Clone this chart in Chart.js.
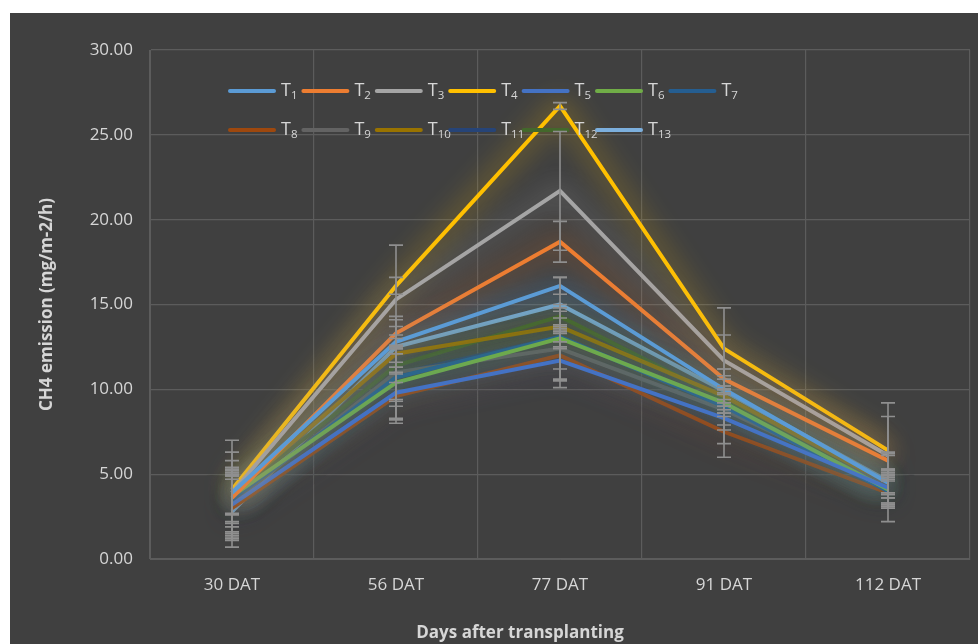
<!DOCTYPE html>
<html>
<head>
<meta charset="utf-8">
<script src="https://cdn.jsdelivr.net/npm/chart.js@4"></script>
<style>
  body { margin: 0; background: #fff; }
  #wrap { position: absolute; left: 10px; top: 13px; width: 968px; height: 631px; background: #404040; }
  canvas { display: block; }
</style>
</head>
<body>
<div id="wrap"><canvas id="c" width="968" height="631"></canvas></div>
<script>
// Data
const days = ['30 DAT', '56 DAT', '77 DAT', '91 DAT', '112 DAT'];
const yTicks = [0, 5, 10, 15, 20, 25, 30];

const labels = ['T1', 'T2', 'T3', 'T4', 'T5', 'T6', 'T7', 'T8', 'T9', 'T10', 'T11', 'T12', 'T13'];
const colors = ['#5B9BD5', '#ED7D31', '#A5A5A5', '#FFC000', '#4472C4', '#70AD47', '#255E91',
                '#9E480E', '#636363', '#997300', '#264478', '#43682B', '#7CAFDD'];

const t1  = [3.9, 12.8, 16.1, 10.0, 4.5];
const t2  = [3.6, 13.3, 18.7, 10.6, 5.8];
const t3  = [3.9, 15.3, 21.7, 11.7, 6.1];
const t4  = [4.1, 16.1, 26.7, 12.4, 6.4];
const t5  = [3.2, 9.8, 11.7, 8.3, 4.2];
const t6  = [3.7, 10.4, 13.0, 9.2, 4.1];
const t7  = [3.5, 10.7, 13.1, 9.0, 4.0];
const t8  = [3.0, 9.6, 12.0, 7.5, 3.9];
const t9  = [3.3, 11.0, 12.4, 8.8, 4.3];
const t10 = [3.8, 12.1, 13.7, 9.6, 4.4];
const t11 = [3.4, 10.9, 13.1, 9.1, 4.0];
const t12 = [3.7, 11.4, 14.3, 9.4, 4.2];
const t13 = [2.8, 12.5, 15.0, 9.9, 4.6];
const series = [t1, t2, t3, t4, t5, t6, t7, t8, t9, t10, t11, t12, t13];

// error bar half-lengths (same order as series)
const e1  = [2.4, 1.5, 0.5, 0.8, 0.6];
const e2  = [1.5, 0.8, 1.2, 0.6, 0.5];
const e3  = [1.3, 3.2, 3.5, 1.5, 2.3];
const e4  = [2.9, 0.5, 0.2, 2.4, 2.8];
const e5  = [1.8, 1.8, 1.6, 1.5, 2.0];
const e6  = [2.1, 2.2, 0.6, 0.8, 0.9];
const e7  = [1.6, 1.4, 1.9, 0.4, 0.7];
const e8  = [1.9, 1.3, 1.5, 1.5, 0.9];
const e9  = [2.0, 2.0, 1.8, 0.9, 1.0];
const e10 = [1.6, 1.1, 0.9, 0.6, 0.8];
const e11 = [1.5, 1.5, 0.6, 1.5, 0.9];
const e12 = [1.0, 1.0, 0.5, 0.6, 0.4];
const e13 = [2.1, 1.2, 1.6, 1.3, 1.5];
const errors = [e1, e2, e3, e4, e5, e6, e7, e8, e9, e10, e11, e12, e13];

const textColor = '#d6d6d6';
const gridColor = '#5c5c5c';
const FONT = '"Open Sans", "Noto Sans", sans-serif';

// soft glow around each line
const glowPlugin = {
    id: 'glow',
    beforeDatasetDraw(chart, args) {
        const ctx = chart.ctx;
        ctx.save();
        ctx.shadowColor = colors[args.index];
        ctx.shadowBlur = 28;
    },
    afterDatasetDraw(chart) {
        chart.ctx.restore();
    }
};

// error bars + legend drawn over the plot
const overlayPlugin = {
    id: 'overlay',
    afterDatasetsDraw(chart) {
        const ctx = chart.ctx;
        const x = chart.scales.x;
        const y = chart.scales.y;
        const area = chart.chartArea;

        // legend (2 rows in a grid)
        ctx.save();
        const colW = 73.4;
        const startX = area.left + 80;
        const rows = [area.top + 41, area.top + 80];
        labels.forEach(function (lab, i) {
            const row = i < 7 ? 0 : 1;
            const col = i < 7 ? i : i - 7;
            const lx = startX + col * colW;
            const ly = rows[row];
            ctx.strokeStyle = colors[i];
            ctx.lineWidth = 4;
            ctx.lineCap = 'round';
            ctx.beginPath();
            ctx.moveTo(lx, ly);
            ctx.lineTo(lx + 44, ly);
            ctx.stroke();
            ctx.fillStyle = textColor;
            ctx.textBaseline = 'middle';
            ctx.textAlign = 'left';
            ctx.font = '18px ' + FONT;
            ctx.fillText('T', lx + 51, ly);
            const tw = ctx.measureText('T').width;
            ctx.font = '11.5px ' + FONT;
            ctx.fillText(lab.slice(1), lx + 51 + tw, ly + 5);
        });
        ctx.restore();

        // error bars
        ctx.save();
        ctx.strokeStyle = '#8f8f8f';
        ctx.lineWidth = 1.6;
        series.forEach(function (vals, s) {
            vals.forEach(function (v, i) {
                const px = x.getPixelForValue(i);
                const top = y.getPixelForValue(v + errors[s][i]);
                const bot = y.getPixelForValue(v - errors[s][i]);
                ctx.beginPath();
                ctx.moveTo(px, top);
                ctx.lineTo(px, bot);
                ctx.moveTo(px - 7, top);
                ctx.lineTo(px + 7, top);
                ctx.moveTo(px - 7, bot);
                ctx.lineTo(px + 7, bot);
                ctx.stroke();
            });
        });
        ctx.restore();

        // x axis title
        ctx.save();
        ctx.fillStyle = textColor;
        ctx.font = 'bold 17px ' + FONT;
        ctx.textAlign = 'center';
        ctx.textBaseline = 'middle';
        ctx.fillText('Days after transplanting', 510, 620);
        ctx.restore();
    }
};

const datasets = series.map(function (vals, i) {
    return {
        label: labels[i],
        data: vals,
        borderColor: colors[i],
        backgroundColor: colors[i],
        borderWidth: 4,
        pointRadius: 0,
        tension: 0,
        fill: false
    };
});

new Chart(document.getElementById('c'), {
    type: 'line',
    data: { labels: days, datasets: datasets },
    plugins: [glowPlugin, overlayPlugin],
    options: {
        responsive: false,
        animation: false,
        layout: { padding: { left: 0, right: 8, top: 37, bottom: 0 } },
        plugins: { legend: { display: false }, tooltip: { enabled: false } },
        scales: {
            x: {
                offset: true,
                grid: { offset: true, color: gridColor, lineWidth: 1.2, drawTicks: false },
                border: { color: gridColor },
                ticks: { color: textColor, font: { family: FONT, size: 17 }, padding: 16 },
                afterFit: function (scale) { scale.height = 85; }
            },
            y: {
                min: 0,
                max: 30,
                afterBuildTicks: function (scale) {
                    scale.ticks = yTicks.map(function (v) { return { value: v }; });
                },
                grid: { color: gridColor, lineWidth: 1.2, drawTicks: false },
                border: { color: gridColor },
                ticks: {
                    color: textColor,
                    font: { family: FONT, size: 17 },
                    padding: 17,
                    callback: function (v) { return Number(v).toFixed(2); }
                },
                title: {
                    display: true,
                    text: 'CH4 emission (mg/m-2/h)',
                    color: textColor,
                    font: { family: FONT, size: 17, weight: 'bold' },
                    padding: { top: 27, bottom: 0 }
                },
                afterFit: function (scale) { scale.width = 140; }
            }
        }
    }
});
</script>
</body>
</html>
